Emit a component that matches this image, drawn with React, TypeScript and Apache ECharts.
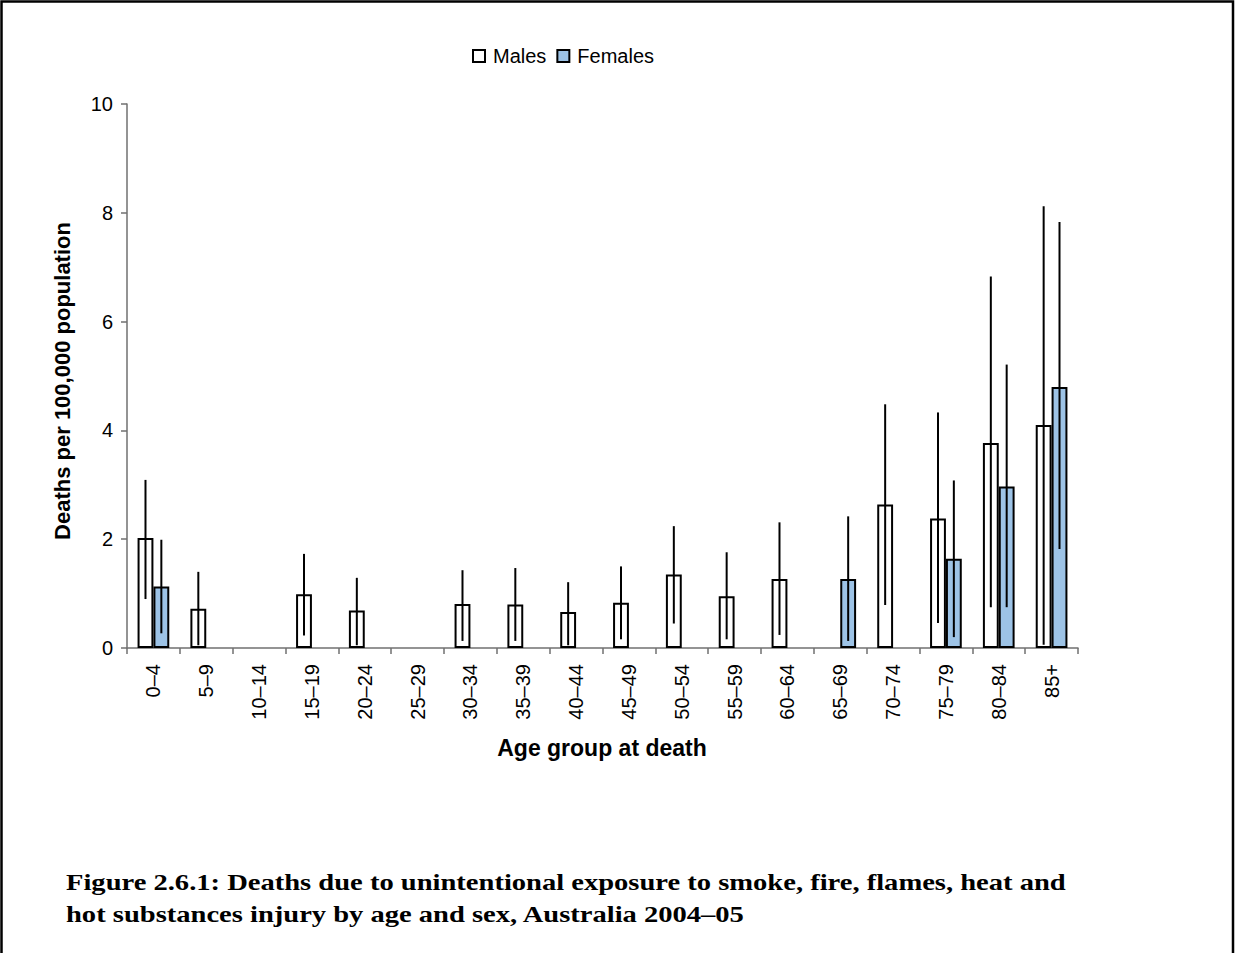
import React, { useEffect, useRef } from "react";
import * as echarts from "echarts";

const categories = ["0–4", "5–9", "10–14", "15–19", "20–24", "25–29", "30–34", "35–39", "40–44", "45–49", "50–54", "55–59", "60–64", "65–69", "70–74", "75–79", "80–84", "85+"];
const males = [2.02, 0.72, null, 0.99, 0.69, null, 0.81, 0.8, 0.66, 0.83, 1.35, 0.95, 1.27, null, 2.64, 2.38, 3.77, 4.1];
const malesLow = [0.9, 0.05, null, 0.23, 0.05, null, 0.13, 0.13, 0.05, 0.16, 0.45, 0.16, 0.24, null, 0.79, 0.46, 0.75, 0.06];
const malesHigh = [3.09, 1.4, null, 1.73, 1.29, null, 1.43, 1.47, 1.21, 1.5, 2.24, 1.76, 2.31, null, 4.48, 4.33, 6.83, 8.12];
const females = [1.13, null, null, null, null, null, null, null, null, null, null, null, null, 1.27, null, 1.64, 2.97, 4.8];
const femalesLow = [0.27, null, null, null, null, null, null, null, null, null, null, null, null, 0.13, null, 0.2, 0.75, 1.82];
const femalesHigh = [1.99, null, null, null, null, null, null, null, null, null, null, null, null, 2.42, null, 3.08, 5.21, 7.83];
const yTicks = [0, 2, 4, 6, 8, 10];

const FONT = "'Liberation Sans', Arial, sans-serif";
const SERIF = "'Liberation Serif', serif";

function errData(lo: (number | null)[], hi: (number | null)[]) {
  const out: number[][] = [];
  lo.forEach((l, i) => {
    const h = hi[i];
    if (l != null && h != null) out.push([i, l, h]);
  });
  return out;
}

function errSeries(name: string, lo: (number | null)[], hi: (number | null)[], sign: number) {
  return {
    type: "custom",
    name: name + " CI",
    z: 10,
    silent: true,
    data: errData(lo, hi),
    encode: { x: 0, y: [1, 2] },
    renderItem: (params: any, api: any) => {
      const idx = api.value(0);
      const a = api.coord([idx, api.value(1)]);
      const b = api.coord([idx, api.value(2)]);
      const band = api.size([1, 0])[0];
      const off = ((band * 0.6) / 4) * sign;
      return {
        type: "line",
        shape: { x1: a[0] + off, y1: a[1], x2: a[0] + off, y2: b[1] },
        style: { stroke: "#000", lineWidth: 2 },
      };
    },
  };
}

export default function App() {
  const ref = useRef<HTMLDivElement>(null);
  useEffect(() => {
    if (!ref.current) return;
    const chart = echarts.init(ref.current, undefined, { renderer: "svg" });
    chart.setOption({
      animation: false,
      backgroundColor: "#fff",
      textStyle: { fontFamily: FONT },
      legend: {
        left: 467,
        top: 41,
        itemWidth: 12,
        itemHeight: 12,
        itemGap: 10,
        icon: "rect",
        data: ["Males", "Females"],
        textStyle: { fontSize: 20, color: "#000", fontFamily: FONT, padding: [0, 0, 0, 3] },
      },
      grid: { left: 127, right: 157, top: 104, bottom: 305, containLabel: false },
      xAxis: {
        type: "category",
        data: categories,
        boundaryGap: true,
        axisLine: { lineStyle: { color: "#707070", width: 1.5 } },
        axisTick: { show: true, interval: 0, length: 6, lineStyle: { color: "#707070", width: 1.5 } },
        axisLabel: { interval: 0, rotate: 90, fontSize: 20, color: "#000", margin: 16, fontFamily: FONT },
      },
      yAxis: {
        type: "value",
        min: yTicks[0],
        max: yTicks[yTicks.length - 1],
        interval: 2,
        axisLine: { show: true, lineStyle: { color: "#707070", width: 1.5 } },
        axisTick: { show: true, length: 6, lineStyle: { color: "#707070", width: 1.5 } },
        splitLine: { show: false },
        axisLabel: { fontSize: 20, color: "#000", margin: 14, fontFamily: FONT },
      },
      series: [
        {
          type: "bar",
          name: "Males",
          data: males,
          barGap: "0%",
          barCategoryGap: "40%",
          itemStyle: { color: "#fff", borderColor: "#000", borderWidth: 2 },
        },
        {
          type: "bar",
          name: "Females",
          data: females,
          barGap: "0%",
          barCategoryGap: "40%",
          itemStyle: { color: "#9DC3E6", borderColor: "#000", borderWidth: 2 },
        },
        errSeries("Males", malesLow, malesHigh, -1),
        errSeries("Females", femalesLow, femalesHigh, 1),
      ],
      graphic: [
        {
          type: "polyline",
          shape: { points: [[1.5, 953], [1.5, 1.5], [1233, 1.5], [1233, 953]] },
          style: { stroke: "#000", lineWidth: 2.5, fill: "none" },
          silent: true,
        },
        {
          type: "text",
          x: 62,
          y: 381,
          rotation: Math.PI / 2,
          style: {
            text: "Deaths per 100,000 population",
            font: `bold 22px ${FONT}`,
            fill: "#000",
            align: "center",
            verticalAlign: "middle",
          },
        },
        {
          type: "text",
          x: 602,
          y: 748,
          style: {
            text: "Age group at death",
            font: `bold 23px ${FONT}`,
            fill: "#000",
            align: "center",
            verticalAlign: "middle",
          },
        },
        {
          type: "text",
          x: 66,
          y: 882,
          scaleX: 1.19,
          style: {
            text: "Figure 2.6.1: Deaths due to unintentional exposure to smoke, fire, flames, heat and",
            font: `bold 24px ${SERIF}`,
            fill: "#000",
            align: "left",
            verticalAlign: "middle",
          },
        },
        {
          type: "text",
          x: 66,
          y: 914,
          scaleX: 1.19,
          style: {
            text: "hot substances injury by age and sex, Australia 2004–05",
            font: `bold 24px ${SERIF}`,
            fill: "#000",
            align: "left",
            verticalAlign: "middle",
          },
        },
      ],
    });
    return () => chart.dispose();
  }, []);
  return <div ref={ref} style={{ position: "absolute", left: 0, top: 0, width: 1235, height: 953 }} />;
}
